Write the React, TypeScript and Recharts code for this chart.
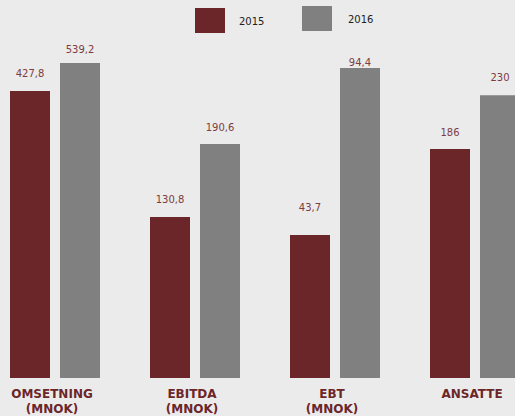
import React from 'react';
import { BarChart, Bar, XAxis, YAxis, Legend, LabelList } from 'recharts';

// Categories (two-line tick labels)
const categories = ['OMSETNING|(MNOK)', 'EBITDA|(MNOK)', 'EBT|(MNOK)', 'ANSATTE'];
// Displayed values
const values2015 = ['427,8', '130,8', '43,7', '186'];
const values2016 = ['539,2', '190,6', '94,4', '230'];
// Bar heights as drawn in the infographic (index, tallest bar = 100; bars are not to a common scale)
const heights2015 = [91.1, 51.1, 45.4, 72.7];
const heights2016 = [100, 74.3, 98.4, 89.8];
const seriesNames = ['2015', '2016'];

// Styles
const BG = '#ebebeb';
const RED = '#6b2629';
const GREY = '#808080';
const LABEL_COLOR = '#7d3b42';
const labelLift2015 = [14, 14, 24, 13];
const labelLift2016 = [10, 13, 2, 14];

const data = categories.map((c, i) => ({
  cat: c,
  h2015: heights2015[i],
  h2016: heights2016[i],
  v2015: values2015[i],
  v2016: values2016[i],
}));

const makeLabel = (lifts: number[]) => (props: any) => {
  const { x, y, width, value, index } = props;
  return (
    <text
      x={x + width / 2}
      y={y - lifts[index]}
      textAnchor="middle"
      fontFamily="DejaVu Sans"
      fontSize={10}
      fill={LABEL_COLOR}
    >
      {value}
    </text>
  );
};

const CatTick = (props: any) => {
  const { x, y, payload } = props;
  const lines = String(payload.value).split('|');
  return (
    <g>
      {lines.map((l, i) => (
        <text
          key={i}
          x={x - 3}
          y={y + 19.5 + i * 15}
          textAnchor="middle"
          fontFamily="DejaVu Sans"
          fontWeight="bold"
          fontSize={12}
          fill={RED}
        >
          {l}
        </text>
      ))}
    </g>
  );
};

const LegendContent = () => {
  const items = [
    { name: seriesNames[0], color: RED, sx: 210, sy: 8, tx: 254, ty: 16 },
    { name: seriesNames[1], color: GREY, sx: 317, sy: 6, tx: 363, ty: 14 },
  ];
  return (
    <div style={{ position: 'relative', width: 560, height: 40 }}>
      {items.map((it) => (
        <React.Fragment key={it.name}>
          <div
            style={{
              position: 'absolute',
              left: it.sx,
              top: it.sy,
              width: 30,
              height: 25,
              background: it.color,
            }}
          />
          <div
            style={{
              position: 'absolute',
              left: it.tx,
              top: it.ty,
              fontFamily: 'DejaVu Sans',
              fontSize: 10,
              lineHeight: '12px',
              color: '#222',
            }}
          >
            {it.name}
          </div>
        </React.Fragment>
      ))}
    </div>
  );
};

export default function App() {
  return (
    <div
      style={{
        position: 'fixed',
        left: 0,
        top: 0,
        width: 515,
        height: 416,
        background: BG,
        overflow: 'hidden',
      }}
    >
      <div style={{ position: 'absolute', left: -15, top: 0 }}>
        <BarChart
          width={560}
          height={416}
          data={data}
          margin={{ top: 63, right: 0, bottom: 0, left: 0 }}
          barSize={40}
          barGap={10}
        >
          <XAxis
            dataKey="cat"
            axisLine={false}
            tickLine={false}
            tickSize={0}
            tickMargin={0}
            height={38}
            interval={0}
            tick={<CatTick />}
          />
          <YAxis hide domain={[0, 100]} />
          <Legend
            layout="horizontal"
            verticalAlign="middle"
            align="center"
            wrapperStyle={{ top: 0, left: 0, width: 560, height: 40 }}
            content={<LegendContent />}
          />
          <Bar dataKey="h2015" name={seriesNames[0]} fill={RED} isAnimationActive={false}>
            <LabelList dataKey="v2015" content={makeLabel(labelLift2015)} />
          </Bar>
          <Bar dataKey="h2016" name={seriesNames[1]} fill={GREY} isAnimationActive={false}>
            <LabelList dataKey="v2016" content={makeLabel(labelLift2016)} />
          </Bar>
        </BarChart>
      </div>
    </div>
  );
}
